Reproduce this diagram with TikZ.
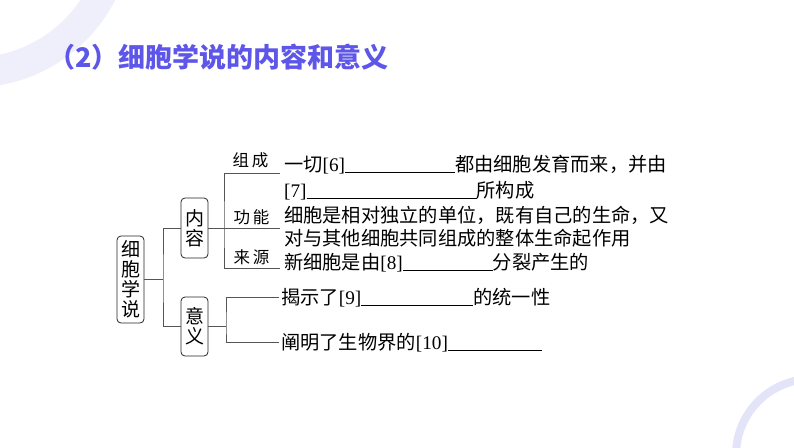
\documentclass[tikz,border=0pt]{standalone}
\usepackage{fontspec}
\setmainfont{Liberation Serif}
\newfontfamily\cjk{Noto Sans CJK SC}
\newfontfamily\tmfont{Liberation Serif}
\newcommand\tm[1]{{\tmfont #1}}
\newcommand\blank[1]{\rule[-1.5pt]{#1}{0.8pt}}
\definecolor{titlec}{RGB}{94,86,232}
\definecolor{ringa}{RGB}{239,239,251}
\definecolor{ringb}{RGB}{228,228,248}
\definecolor{linec}{RGB}{85,85,85}
\tikzset{
  box/.style={draw=black!85, rounded corners=4pt, line width=0.8pt, inner sep=0pt,
    minimum width=27pt, align=center, font=\cjk\fontsize{19}{20}\selectfont},
  lab/.style={inner sep=0pt, font=\cjk\fontsize{16.5}{16.5}\selectfont},
  row/.style={anchor=base west, inner sep=0pt, font=\cjk\fontsize{19.25}{20}\selectfont},
  conn/.style={draw=linec, line width=0.8pt},
}
\begin{document}
\begin{tikzpicture}[x=1pt,y=-1pt]
\useasboundingbox (0,0) rectangle (794,447);
\fill[white] (0,0) rectangle (794,447);
\begin{scope}
\clip (0,0) rectangle (794,447);
\draw[ringa, line width=30pt] (-27.5,-72.5) circle[radius=145pt];
\draw[ringb, line width=8pt] (812,455) circle[radius=76pt];
\end{scope}
% title
\node[anchor=base west, inner sep=0pt, text=titlec, font=\cjk\bfseries\fontsize{27}{27}\selectfont] (title) at (48,67) {（2）细胞学说的内容和意义};
% boxes
\node[box, minimum height=87pt] (root) at (130.5,279.5) {细\\胞\\学\\说};
\node[box, minimum height=60pt] (nr) at (194.5,228) {内\\容};
\node[box, minimum height=59pt] (yy) at (194.5,326.5) {意\\义};
% junction coordinates
\coordinate (j1) at (163,279.5);
\coordinate (j2) at (224,228);
\coordinate (j3) at (226,326.5);
\coordinate (c1) at (280,173);
\coordinate (c2) at (280,228);
\coordinate (c3) at (280,268);
\coordinate (d1) at (279,297);
\coordinate (d2) at (279,342);
% connectors
\draw[conn] (root.east) -- (j1);
\draw[conn] (nr.west) -| (j1) |- (yy.west);
\draw[conn] (c1) -| (j2) |- (c3);
\draw[conn] (nr.east) -- (c2);
\draw[conn] (d1) -| (j3) |- (d2);
\draw[conn] (yy.east) -- (j3);
% branch labels
\node[lab] (l1) at (250.5,160) {组\hspace{3pt}成};
\node[lab] (l2) at (251.5,217) {功\hspace{3pt}能};
\node[lab] (l3) at (251.5,257.5) {来\hspace{3pt}源};
% rows
\node[row] (r1) at (284,171) {一切\tm{[6]}\blank{110pt}都由细胞发育而来，并由};
\node[row] (r2) at (284,197) {\tm{[7]}\blank{170pt}所构成};
\node[row] (r3) at (284,222) {细胞是相对独立的单位，既有自己的生命，又};
\node[row] (r4) at (284,245) {对与其他细胞共同组成的整体生命起作用};
\node[row] (r5) at (284,269) {新细胞是由\tm{[8]}\blank{90pt}分裂产生的};
\node[row] (r6) at (281,304) {揭示了\tm{[9]}\blank{112pt}的统一性};
\node[row] (r7) at (281,349) {阐明了生物界的\tm{[10]}\blank{94pt}};
\end{tikzpicture}
\end{document}
